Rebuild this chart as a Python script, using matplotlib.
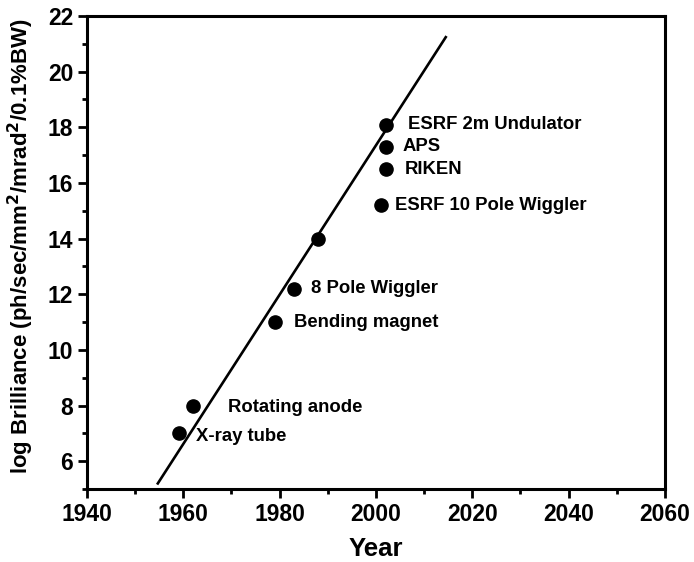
import matplotlib
matplotlib.use('Agg')
import matplotlib.pyplot as plt
from matplotlib.ticker import MultipleLocator

plt.rcParams['font.family'] = ['Liberation Sans', 'DejaVu Sans']
plt.rcParams['font.weight'] = 'bold'

years = [1959, 1962, 1979, 1983, 1988, 2001, 2002, 2002, 2002]
brilliance = [7.0, 8.0, 11.0, 12.2, 14.0, 15.2, 18.1, 17.3, 16.5]
names = ['X-ray tube', 'Rotating anode', 'Bending magnet', '8 Pole Wiggler', '',
         'ESRF 10 Pole Wiggler', 'ESRF 2m Undulator', 'APS', 'RIKEN']

fit_years = [1954.7, 2014.5]
fit_vals = [5.2, 21.24]

# text offsets in pixels from each point
offsets = [(17, -3), (35, -2), (19, 0), (17, 0), (0, 0),
           (14, 0), (22, 0), (17, 0), (19, 0)]

fig = plt.figure(figsize=(6.94, 5.62), dpi=100)
ax = fig.add_axes([0.1254, 0.1299, 0.958 - 0.1254, 0.9715 - 0.1299])

ax.plot(fit_years, fit_vals, color='black', linewidth=1.9)
ax.plot(years, brilliance, 'o', color='black', markersize=9.5)

for x, y, s, off in zip(years, brilliance, names, offsets):
    if s:
        ax.annotate(s, (x, y), xytext=off, textcoords='offset pixels',
                    ha='left', va='center', fontsize=13.3, fontweight='bold')

ax.set_xlim(1940, 2060)
ax.set_ylim(5, 22)
ax.xaxis.set_major_locator(MultipleLocator(20))
ax.xaxis.set_minor_locator(MultipleLocator(10))
ax.yaxis.set_major_locator(MultipleLocator(2))
ax.yaxis.set_minor_locator(MultipleLocator(1))
ax.tick_params(which='both', direction='out', width=2, labelsize=16.5)
ax.tick_params(which='major', length=6.5)
ax.tick_params(which='minor', length=3.5)
for sp in ax.spines.values():
    sp.set_linewidth(2.2)

ax.set_xlabel('Year', fontsize=18.5, fontweight='bold', labelpad=8)
ax.set_ylabel('log Brilliance (ph/sec/mm$^\\mathbf{2}$/mrad$^\\mathbf{2}$/0.1%BW)',
              fontsize=16, fontweight='bold')
ax.yaxis.set_label_coords(-0.088, 0.514)

fig.savefig('out.png', dpi=100)
